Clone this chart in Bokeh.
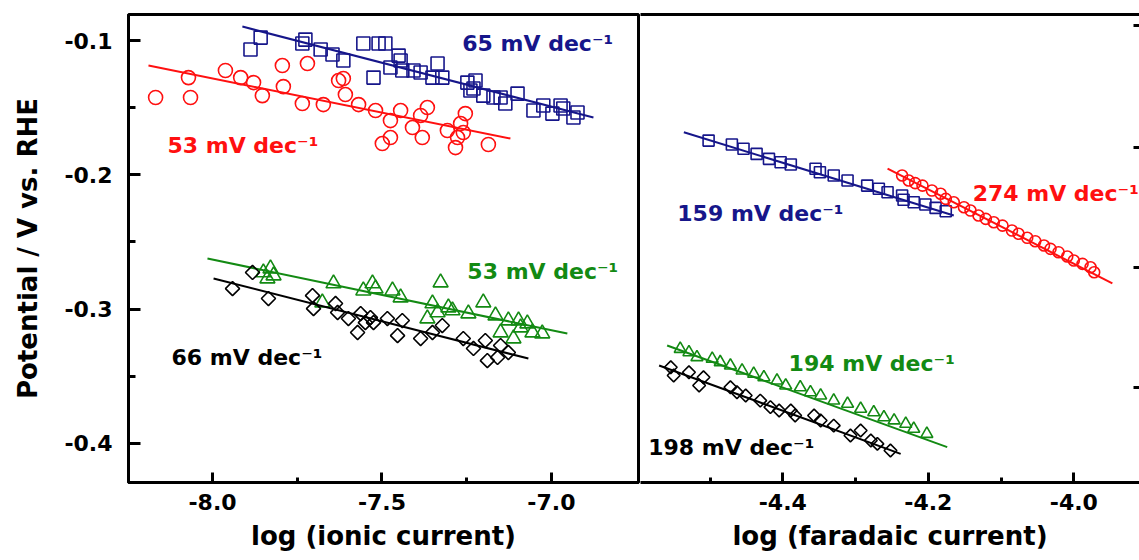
import math
from bokeh.plotting import figure
from bokeh.layouts import row
from bokeh.models import FixedTicker, LinearAxis, Range1d, PrintfTickFormatter
from bokeh.core.properties import value
from bokeh.embed import file_html
from bokeh.resources import INLINE

# ---------------- left panel: log (ionic current) ----------------
ion_blue_x = [-7.888, -7.858, -7.735, -7.726, -7.681, -7.646, -7.614, -7.555, -7.525, -7.510,
              -7.490, -7.475, -7.451, -7.445, -7.440, -7.407, -7.386, -7.351, -7.336, -7.322,
              -7.248, -7.224, -7.239, -7.230, -7.201, -7.171, -7.136, -7.100, -7.150, -7.053,
              -7.024, -6.997, -6.973, -6.965, -6.935, -6.923]
ion_blue_y = [-0.1067, -0.0978, -0.1022, -0.0993, -0.1067, -0.1104, -0.1149, -0.1022, -0.1276, -0.1022,
              -0.1022, -0.1201, -0.1112, -0.1149, -0.1223, -0.1223, -0.1238, -0.1276, -0.1171, -0.1276,
              -0.1313, -0.1298, -0.1372, -0.1357, -0.1410, -0.1424, -0.1469, -0.1395, -0.1424, -0.1521,
              -0.1484, -0.1544, -0.1484, -0.1506, -0.1573, -0.1536]
ion_blue_fit_x = [-7.912, -6.876]
ion_blue_fit_y = [-0.0896, -0.1573]

ion_red_x = [-8.168, -8.071, -8.065, -7.962, -7.917, -7.879, -7.853, -7.794, -7.791, -7.720,
             -7.735, -7.673, -7.628, -7.614, -7.608, -7.569, -7.519, -7.475, -7.499, -7.475,
             -7.445, -7.410, -7.386, -7.366, -7.381, -7.307, -7.268, -7.254, -7.260, -7.277,
             -7.283, -7.186]
ion_red_y = [-0.1424, -0.1276, -0.1424, -0.1223, -0.1276, -0.1313, -0.1410, -0.1186, -0.1343, -0.1171,
             -0.1469, -0.1477, -0.1298, -0.1283, -0.1402, -0.1477, -0.1521, -0.1596, -0.1767, -0.1722,
             -0.1521, -0.1648, -0.1558, -0.1499, -0.1722, -0.1670, -0.1618, -0.1544, -0.1685, -0.1722,
             -0.1797, -0.1774]
ion_red_fit_x = [-8.189, -7.121]
ion_red_fit_y = [-0.1186, -0.1730]

ion_green_x = [-7.850, -7.829, -7.838, -7.820, -7.643, -7.676, -7.555, -7.528, -7.519, -7.469,
               -7.445, -7.327, -7.351, -7.366, -7.336, -7.304, -7.292, -7.245, -7.201, -7.165,
               -7.150, -7.127, -7.097, -7.091, -7.071, -7.112, -7.056, -7.027]
ion_green_y = [-0.2727, -0.2698, -0.2772, -0.2750, -0.2809, -0.2951, -0.2862, -0.2809, -0.2847, -0.2862,
               -0.2914, -0.2802, -0.2958, -0.3070, -0.3025, -0.2988, -0.3010, -0.3033, -0.2951, -0.3048,
               -0.3174, -0.3085, -0.3085, -0.3137, -0.3107, -0.3219, -0.3174, -0.3182]
ion_green_fit_x = [-8.015, -6.953]
ion_green_fit_y = [-0.2623, -0.3182]

ion_black_x = [-7.882, -7.941, -7.835, -7.705, -7.702, -7.637, -7.631, -7.599, -7.563, -7.549,
               -7.572, -7.525, -7.534, -7.484, -7.454, -7.440, -7.386, -7.351, -7.322, -7.260,
               -7.230, -7.195, -7.189, -7.159, -7.150, -7.127]
ion_black_y = [-0.2727, -0.2847, -0.2921, -0.2899, -0.2996, -0.2958, -0.3025, -0.3070, -0.3033, -0.3100,
               -0.3174, -0.3100, -0.3063, -0.3070, -0.3197, -0.3085, -0.3219, -0.3174, -0.3122, -0.3219,
               -0.3293, -0.3234, -0.3383, -0.3360, -0.3271, -0.3323]
ion_black_fit_x = [-7.997, -7.068]
ion_black_fit_y = [-0.2772, -0.3368]

# ---------------- right panel: log (faradaic current) ----------------
far_blue_x = [-4.502, -4.470, -4.454, -4.436, -4.419, -4.403, -4.389, -4.355, -4.349, -4.330,
              -4.311, -4.284, -4.268, -4.256, -4.236, -4.234, -4.220, -4.204, -4.190, -4.176]
far_blue_y = [-0.1745, -0.1774, -0.1806, -0.1844, -0.1881, -0.1906, -0.1923, -0.1955, -0.1981, -0.2005,
              -0.2042, -0.2080, -0.2104, -0.2130, -0.2154, -0.2186, -0.2204, -0.2221, -0.2246, -0.2271]
far_blue_fit_x = [-4.536, -4.165]
far_blue_fit_y = [-0.1683, -0.2303]

far_red_x = [-4.236, -4.227, -4.218, -4.208, -4.195, -4.183, -4.176, -4.165, -4.151, -4.142,
             -4.131, -4.121, -4.110, -4.098, -4.085, -4.076, -4.064, -4.053, -4.041, -4.032,
             -4.021, -4.009, -4.000, -3.988, -3.977, -3.972]
far_red_y = [-0.2005, -0.2042, -0.2062, -0.2080, -0.2117, -0.2141, -0.2179, -0.2204, -0.2241, -0.2266,
             -0.2303, -0.2328, -0.2353, -0.2378, -0.2415, -0.2439, -0.2469, -0.2494, -0.2526, -0.2551,
             -0.2576, -0.2608, -0.2638, -0.2663, -0.2688, -0.2725]
far_red_fit_x = [-4.256, -3.947]
far_red_fit_y = [-0.1953, -0.2809]

far_green_x = [-4.541, -4.529, -4.518, -4.497, -4.486, -4.472, -4.456, -4.440, -4.426, -4.408,
               -4.396, -4.376, -4.362, -4.348, -4.330, -4.311, -4.293, -4.275, -4.261, -4.247,
               -4.231, -4.220, -4.202]
far_green_y = [-0.3296, -0.3321, -0.3358, -0.3370, -0.3395, -0.3420, -0.3457, -0.3482, -0.3507, -0.3532,
               -0.3569, -0.3582, -0.3619, -0.3643, -0.3681, -0.3705, -0.3742, -0.3768, -0.3805, -0.3829,
               -0.3854, -0.3891, -0.3929]
far_green_fit_x = [-4.559, -4.174]
far_green_fit_y = [-0.3271, -0.4028]

far_black_x = [-4.554, -4.550, -4.529, -4.515, -4.509, -4.472, -4.463, -4.451, -4.431, -4.417,
               -4.405, -4.389, -4.383, -4.357, -4.348, -4.330, -4.307, -4.293, -4.279, -4.270,
               -4.252]
far_black_y = [-0.3433, -0.3494, -0.3470, -0.3569, -0.3507, -0.3582, -0.3619, -0.3643, -0.3681, -0.3730,
               -0.3755, -0.3755, -0.3792, -0.3792, -0.3829, -0.3867, -0.3941, -0.3904, -0.3978, -0.4003,
               -0.4053]
far_black_fit_x = [-4.570, -4.238]
far_black_fit_y = [-0.3420, -0.4078]

# ---------------- labels / ticks ----------------
ion_notes = ["65 mV dec\u207b\u00b9", "53 mV dec\u207b\u00b9", "53 mV dec\u207b\u00b9", "66 mV dec\u207b\u00b9"]
ion_note_x = [-7.263, -8.133, -7.248, -8.121]
ion_note_y = [-0.1022, -0.1782, -0.2720, -0.3360]
far_notes = ["159 mV dec\u207b\u00b9", "274 mV dec\u207b\u00b9", "194 mV dec\u207b\u00b9", "198 mV dec\u207b\u00b9"]
far_note_x = [-4.545, -4.139, -4.392, -4.585]
far_note_y = [-0.2288, -0.2139, -0.3405, -0.4031]

y_title = "Potential / V vs. RHE"
ion_title = "log (ionic current)"
far_title = "log (faradaic current)"

y_ticks = [-0.1, -0.2, -0.3, -0.4]
y_minor = [-0.15, -0.25, -0.35]
ion_x_ticks = [-8.0, -7.5, -7.0]
ion_x_minor = [-7.75, -7.25]
far_x_ticks = [-4.4, -4.2, -4.0]
far_x_minor = [-4.5, -4.3, -4.1]
far_right_ticks = [-0.0888, -0.1797, -0.2690, -0.3584]

BLUE = "#16168a"
RED = "#ff1010"
GREEN = "#138a13"
BLACK = "#000000"
FONT = "DejaVu Sans"

Y0, Y1 = -0.4291, -0.0806


def style_axis(ax, ticks, minor, major_in, minor_in):
    ax.ticker = FixedTicker(ticks=ticks, minor_ticks=minor)
    ax.formatter = PrintfTickFormatter(format="%.1f")
    ax.axis_line_width = 3
    ax.axis_line_color = "black"
    ax.major_tick_line_width = 3
    ax.minor_tick_line_width = 3
    ax.major_tick_in = major_in
    ax.major_tick_out = 0
    ax.minor_tick_in = minor_in
    ax.minor_tick_out = 0
    ax.major_label_text_font = FONT
    ax.major_label_text_font_style = "bold"
    ax.major_label_text_font_size = "22px"
    ax.major_label_text_color = "black"
    ax.axis_label_text_font = FONT
    ax.axis_label_text_font_style = "bold"
    ax.axis_label_text_font_size = "26px"
    ax.axis_label_text_color = "black"


def add_series(p, xs, ys, fx, fy, color, marker, size, angle=0.0):
    p.line(fx, fy, line_color=color, line_width=2)
    p.scatter(xs, ys, marker=marker, size=size, angle=angle, fill_color=None,
              line_color=color, line_width=1.6)


def add_notes(p, texts, xs, ys, colors):
    p.text(xs, ys, text=texts, text_color=colors, text_font=value(FONT),
           text_font_style="bold", text_font_size="22px",
           text_align="left", text_baseline="alphabetic")


# ---------- left figure ----------
left = figure(width=640, height=560, x_range=Range1d(-8.248, -6.743), y_range=Range1d(Y0, Y1),
              output_backend="svg", toolbar_location=None,
              min_border_left=128, min_border_right=2, min_border_top=14, min_border_bottom=78)
left.xgrid.visible = False
left.ygrid.visible = False
left.outline_line_color = "black"
left.outline_line_width = 3
left.outline_line_alpha = 1
left.border_fill_color = "white"
style_axis(left.xaxis[0], ion_x_ticks, ion_x_minor, 10, 5)
style_axis(left.yaxis[0], y_ticks, y_minor, 12, 7)
left.xaxis[0].major_label_standoff = 11
left.yaxis[0].major_label_standoff = 16
left.xaxis[0].axis_label = ion_title
left.xaxis[0].axis_label_standoff = 8
left.yaxis[0].axis_label = y_title
left.yaxis[0].axis_label_standoff = 18

add_series(left, ion_blue_x, ion_blue_y, ion_blue_fit_x, ion_blue_fit_y, BLUE, "square", 13)
add_series(left, ion_red_x, ion_red_y, ion_red_fit_x, ion_red_fit_y, RED, "circle", 14)
add_series(left, ion_green_x, ion_green_y, ion_green_fit_x, ion_green_fit_y, GREEN, "triangle", 15)
add_series(left, ion_black_x, ion_black_y, ion_black_fit_x, ion_black_fit_y, BLACK, "square", 10, math.pi / 4)
add_notes(left, ion_notes, ion_note_x, ion_note_y, [BLUE, RED, GREEN, BLACK])

# ---------- right figure ----------
right = figure(width=499, height=560, x_range=Range1d(-4.5956, -3.9097), y_range=Range1d(Y0, Y1),
               output_backend="svg", toolbar_location=None, y_axis_location="right",
               min_border_left=0, min_border_right=0, min_border_top=14, min_border_bottom=78)
right.xgrid.visible = False
right.ygrid.visible = False
right.outline_line_color = None
right.border_fill_color = "white"
style_axis(right.xaxis[0], far_x_ticks, far_x_minor, 10, 5)
right.xaxis[0].major_label_standoff = 11
right.xaxis[0].axis_label = far_title
right.xaxis[0].axis_label_standoff = 8
ry = right.yaxis[0]
ry.ticker = FixedTicker(ticks=far_right_ticks)
ry.axis_line_color = None
ry.major_tick_in = 6
ry.major_tick_out = 0
ry.major_tick_line_width = 3
ry.minor_tick_line_color = None
ry.major_label_text_color = None
ry.major_label_text_font_size = "1px"
ry.major_label_standoff = 0

top_ax = LinearAxis(ticker=FixedTicker(ticks=[]), axis_line_width=3, axis_line_color="black",
                    major_tick_in=0, major_tick_out=0, minor_tick_in=0, minor_tick_out=0,
                    major_label_standoff=0, major_label_text_color=None)
right.add_layout(top_ax, "above")

add_series(right, far_blue_x, far_blue_y, far_blue_fit_x, far_blue_fit_y, BLUE, "square", 11)
add_series(right, far_red_x, far_red_y, far_red_fit_x, far_red_fit_y, RED, "circle", 11)
add_series(right, far_green_x, far_green_y, far_green_fit_x, far_green_fit_y, GREEN, "triangle", 12)
add_series(right, far_black_x, far_black_y, far_black_fit_x, far_black_fit_y, BLACK, "square", 9, math.pi / 4)
add_notes(right, far_notes, far_note_x, far_note_y, [BLUE, RED, GREEN, BLACK])

layout = row(left, right, spacing=0)
open("out.html", "w").write(file_html(layout, INLINE))
